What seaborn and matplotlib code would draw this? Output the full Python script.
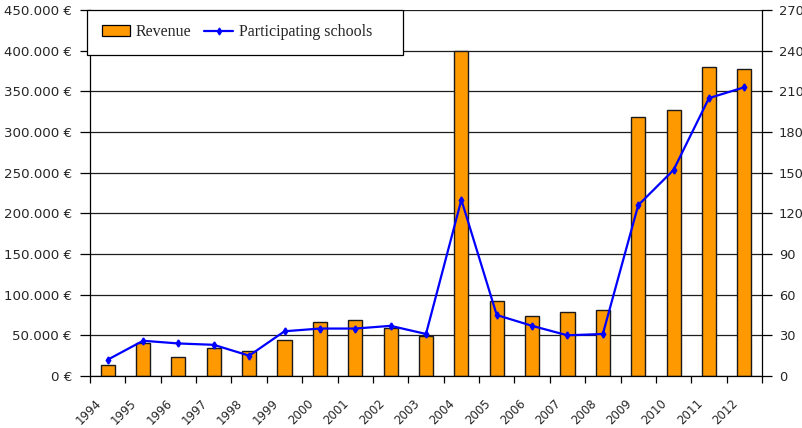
import numpy as np
import pandas as pd
import seaborn as sns
import matplotlib.pyplot as plt
from matplotlib.patches import Patch
from matplotlib.lines import Line2D
from matplotlib.ticker import FuncFormatter, FixedLocator
import matplotlib.transforms as mtransforms

sns.set_style("white")

years = ['1994', '1995', '1996', '1997', '1998', '1999', '2000', '2001', '2002', '2003',
         '2004', '2005', '2006', '2007', '2008', '2009', '2010', '2011', '2012']
revenue = [14000, 41000, 23500, 34000, 31000, 44000, 66000, 68500, 59000, 49000,
           400000, 92000, 73500, 78500, 81500, 319000, 327000, 379500, 377000]
schools = [12, 26, 24, 23, 15, 33, 35, 35, 37, 31,
           130, 45, 37, 30, 31, 126, 152, 205, 213]

df = pd.DataFrame({'year': years, 'revenue': revenue, 'schools': schools})

fig = plt.figure(figsize=(8.03, 4.28), dpi=100)
ax = fig.add_axes([90/803, 52/428, 672/803, 366/428])

# revenue bars
sns.barplot(data=df, x='year', y='revenue', ax=ax, color='#FF9900', saturation=1,
            width=0.4, edgecolor='#1a1a1a', linewidth=1.0, zorder=2)
ax.set_ylim(0, 450000)
ax.set_xlim(-0.5, len(years) - 0.5)
ax.set_yticks(np.arange(0, 450001, 50000))
ax.yaxis.set_major_formatter(FuncFormatter(lambda v, p: f"{int(v):,} €".replace(',', '.')))
ax.grid(axis='y', color='#1e1e1e', linewidth=0.9, zorder=0)
ax.set_axisbelow(True)
ax.set_xlabel('')
ax.set_ylabel('')

# x ticks: marks at category boundaries, labels slightly left of centres
ax.xaxis.set_major_locator(FixedLocator(np.arange(-0.5, len(years), 1.0)))
ax.xaxis.set_major_formatter(FuncFormatter(lambda v, p: ''))
ax.xaxis.set_minor_locator(FixedLocator(np.arange(len(years))))
ax.set_xticklabels(years, minor=True)
ax.tick_params(axis='x', which='major', direction='out', length=5, width=0.9, color='black', bottom=True)
ax.tick_params(axis='x', which='minor', length=0, pad=15, labelsize=8.5, labelrotation=45)
offset = mtransforms.ScaledTranslation(-13/100, 0, fig.dpi_scale_trans)
for lab in ax.get_xticklabels(minor=True):
    lab.set_ha('right')
    lab.set_rotation_mode('anchor')
    lab.set_transform(lab.get_transform() + offset)
ax.tick_params(axis='y', direction='out', length=7, width=0.9, color='black', left=True,
               labelsize=9.6, pad=6)

for s in ['top', 'right']:
    ax.spines[s].set_visible(False)
for s in ['left', 'bottom']:
    ax.spines[s].set_color('black')
    ax.spines[s].set_linewidth(0.9)

# participating schools line
ax2 = ax.twinx()
sns.pointplot(data=df, x='year', y='schools', ax=ax2, color='#0000FF', markers='d',
              linestyles='-', linewidth=1.6, markersize=3.5, errorbar=None)
ax2.set_ylim(0, 270)
ax2.set_xlim(-0.5, len(years) - 0.5)
ax2.set_yticks(np.arange(0, 271, 30))
ax2.set_ylabel('')
ax2.set_xlabel('')
ax2.tick_params(axis='y', direction='out', length=7, width=0.9, color='black', right=True,
                labelsize=9.4, pad=5)
for s in ['top', 'left', 'bottom']:
    ax2.spines[s].set_visible(False)
ax2.spines['right'].set_color('black')
ax2.spines['right'].set_linewidth(0.9)

handles = [Patch(facecolor='#FF9900', edgecolor='black', linewidth=0.9),
           Line2D([], [], color='#0000FF', linewidth=1.6, marker='d', markersize=3.5)]
leg = ax2.legend(handles, ['Revenue', 'Participating schools    '], ncol=2,
                 loc='upper left', bbox_to_anchor=(-0.004, 1.0), frameon=True,
                 fancybox=False, framealpha=1, edgecolor='black',
                 prop={'family': 'Liberation Serif', 'size': 11.5},
                 borderpad=0.9, handlelength=1.8, columnspacing=0.8, handletextpad=0.35,
                 borderaxespad=0)
leg.get_frame().set_linewidth(0.9)

fig.savefig('out.png', dpi=100)
